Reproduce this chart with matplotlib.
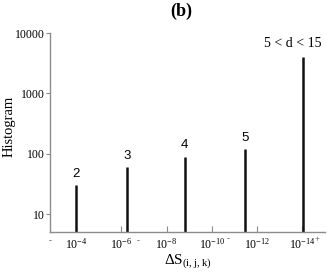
import matplotlib
matplotlib.use("Agg")
import matplotlib.pyplot as plt

# data
exponents = [3.98, 6.25, 8.8, 11.45, 14.05]   # position as -log10(ΔS)
counts = [30, 60, 90, 120, 4000]
bar_labels = ["2", "3", "4", "5", "5 < d < 15"]
xtick_exps = [4, 6, 8, 10, 12, 14]
xtick_labels = [r"$\mathregular{10^{-%d}}$" % e for e in xtick_exps]
ytick_vals = [10, 100, 1000, 10000]
ytick_labels = ["10", "100", "1000", "10000"]

serif = ["Liberation Serif", "DejaVu Serif"]
sans = ["Liberation Sans", "DejaVu Sans"]

fig = plt.figure(figsize=(3.27, 2.72), dpi=100)
ax = fig.add_axes([50/327, 1 - 231.7/272, 275/327, (231.7-33)/272])
ax.set_yscale("log")
ax.set_xlim(2.85, 15.0)
ax.set_ylim(5.15, 10000)

ymin = ax.get_ylim()[0]
ax.vlines(exponents, ymin, counts, colors="#111111", linewidth=1.8)

for x, c, lab in zip(exponents, counts, bar_labels):
    if lab.startswith("5 <"):
        ax.annotate(lab, xy=(x, c), xytext=(13, 5), textcoords="offset points",
                    ha="right", va="bottom", fontsize=10, family=serif)
    else:
        ax.annotate(lab, xy=(x, c), xytext=(0, 4), textcoords="offset points",
                    ha="center", va="bottom", fontsize=9.5, family=sans)

gray = "#8c8c8c"
for s in ["top", "right"]:
    ax.spines[s].set_visible(False)
for s in ["left", "bottom"]:
    ax.spines[s].set_color(gray)
    ax.spines[s].set_linewidth(1.0)

ax.set_xticks(xtick_exps)
ax.set_xticklabels(xtick_labels, family=serif, fontsize=8.5)
ax.tick_params(axis="x", direction="in", length=4, color=gray, pad=4)
ax.set_yticks(ytick_vals)
ax.set_yticklabels(ytick_labels, family=serif, fontsize=8.5)
ax.minorticks_off()
ax.tick_params(axis="y", direction="out", length=3, color=gray, pad=1)

# stray minor-tick dashes seen in the reference
for xd, yd, txt in [(2.85, -0.03, "-"), (6.75, -0.03, "-"), (10.7, -0.02, "-"), (14.65, -0.02, "+")]:
    ax.text(xd, yd, txt, transform=ax.get_xaxis_transform(), ha="center",
            va="top", fontsize=6.5, family=serif, color="#444444")

ax.set_xlabel(r"$\mathregular{\Delta S_{(i,j,k)}}$", family=serif, fontsize=11, labelpad=0)
ax.set_ylabel("Histogram", family=serif, fontsize=10.5)
ax.yaxis.set_label_coords(-0.124, 0.53)
fig.text(181/327, 1 - 11/272, "(b)", ha="center", va="center", fontsize=13,
         fontweight="bold", family=serif)

fig.savefig("out.png", dpi=100)
